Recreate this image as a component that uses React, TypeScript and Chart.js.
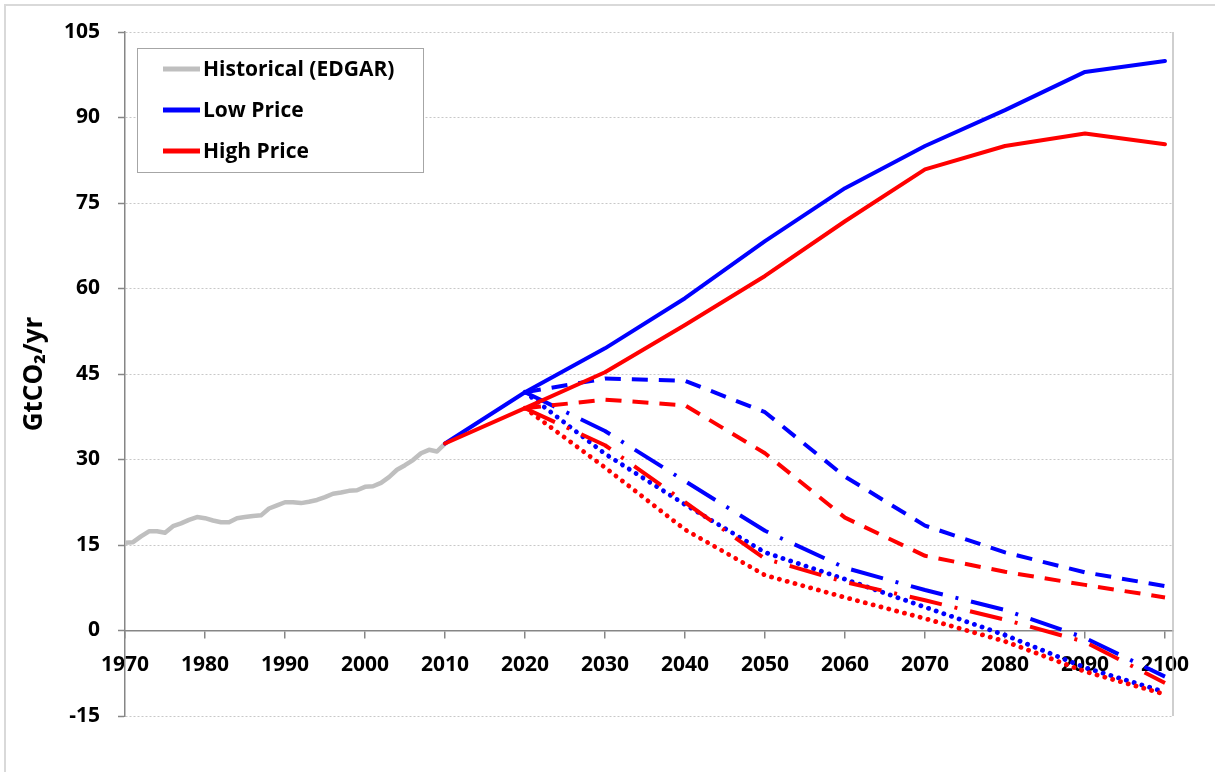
import React, { useEffect, useRef } from "react";
import { Chart, registerables } from "chart.js";

Chart.register(...registerables);

// ---------- data ----------
const histYears = [
  1970, 1971, 1972, 1973, 1974, 1975, 1976, 1977, 1978, 1979,
  1980, 1981, 1982, 1983, 1984, 1985, 1986, 1987, 1988, 1989,
  1990, 1991, 1992, 1993, 1994, 1995, 1996, 1997, 1998, 1999,
  2000, 2001, 2002, 2003, 2004, 2005, 2006, 2007, 2008, 2009, 2010,
];
const historical = [
  15.4, 15.5, 16.5, 17.4, 17.4, 17.15, 18.3, 18.8, 19.4, 19.9,
  19.7, 19.3, 19.0, 19.0, 19.7, 19.9, 20.1, 20.2, 21.4, 21.95,
  22.5, 22.5, 22.35, 22.6, 22.9, 23.4, 24.0, 24.2, 24.5, 24.6,
  25.2, 25.3, 25.9, 26.9, 28.2, 29.0, 29.9, 31.1, 31.7, 31.4, 32.8,
];

const baselineYears = [2010, 2020, 2030, 2040, 2050, 2060, 2070, 2080, 2090, 2100];
const lowPrice = [32.8, 41.8, 49.5, 58.3, 68.3, 77.6, 85.0, 91.3, 98.0, 99.9];
const highPrice = [32.8, 39.0, 45.3, 53.6, 62.2, 71.8, 80.9, 85.0, 87.2, 85.3];

const pathYears = [2020, 2030, 2040, 2050, 2060, 2070, 2080, 2090, 2100];
const lowDashed = [41.8, 44.2, 43.8, 38.3, 27.0, 18.4, 13.7, 10.2, 7.8];
const highDashed = [39.0, 40.5, 39.5, 31.1, 19.8, 13.1, 10.3, 8.0, 5.8];
const lowDashDot = [41.8, 35.0, 26.2, 17.5, 11.0, 7.1, 3.6, -1.3, -8.1];
const highDashDot = [39.0, 32.5, 22.5, 12.6, 8.5, 5.3, 1.9, -2.0, -9.2];
const lowDotted = [41.8, 31.0, 22.1, 13.7, 9.0, 4.1, -0.8, -6.5, -10.8];
const highDotted = [39.0, 28.6, 17.7, 9.7, 5.8, 2.1, -1.9, -7.2, -11.2];

const xTickYears = [1970, 1980, 1990, 2000, 2010, 2020, 2030, 2040, 2050, 2060, 2070, 2080, 2090, 2100];
const legendLabels = ["Historical (EDGAR)", "Low Price", "High Price"];

// ---------- styles ----------
const FONT = "'Open Sans', sans-serif";
const GRAY_HIST = "#BFBFBF";
const BLUE = "#0000FF";
const RED = "#FF0000";
const AXIS = "#868686";
const legendColors = [GRAY_HIST, BLUE, RED];

const toXY = (xs: number[], ys: number[]) => xs.map((x, i) => ({ x, y: ys[i] }));

const DASH = [16, 11];
const DASH_DOT = [33, 13, 3, 13];
const DOT = [0.1, 8];

const decorPlugin = {
  id: "decor",
  afterDraw(chart: any) {
    const { ctx, chartArea } = chart;
    ctx.save();
    // right border of plot area
    ctx.strokeStyle = "#BFBFBF";
    ctx.lineWidth = 1.5;
    ctx.beginPath();
    ctx.moveTo(chartArea.right, chartArea.top);
    ctx.lineTo(chartArea.right, chartArea.bottom);
    ctx.stroke();

    // legend box
    const bx = 137.5, by = 48.5, bw = 286, bh = 124;
    ctx.fillStyle = "#FFFFFF";
    ctx.fillRect(bx, by, bw, bh);
    ctx.strokeStyle = "#A6A6A6";
    ctx.lineWidth = 1;
    ctx.strokeRect(bx, by, bw, bh);
    const rows = [69, 110, 151];
    ctx.font = `bold 21px ${FONT}`;
    ctx.textBaseline = "middle";
    ctx.textAlign = "left";
    legendLabels.forEach((label, i) => {
      ctx.strokeStyle = legendColors[i];
      ctx.lineWidth = 5;
      ctx.lineCap = "butt";
      ctx.beginPath();
      ctx.moveTo(163, rows[i]);
      ctx.lineTo(200, rows[i]);
      ctx.stroke();
      ctx.fillStyle = "#000000";
      ctx.fillText(label, 203, rows[i] + 1);
    });
    ctx.restore();
  },
};

export default function App() {
  const canvasRef = useRef<HTMLCanvasElement | null>(null);

  useEffect(() => {
    if (!canvasRef.current) return;
    const line = (label: string, data: any[], color: string, dash: number[], cap: string, width = 4) => ({
      label,
      data,
      borderColor: color,
      backgroundColor: color,
      borderWidth: width,
      borderDash: dash,
      borderCapStyle: cap,
      borderJoinStyle: "round",
      pointRadius: 0,
      tension: 0,
      fill: false,
    });

    const chart = new Chart(canvasRef.current, {
      type: "line",
      data: {
        datasets: [
          line("High Price", toXY(baselineYears, highPrice), RED, [], "round"),
          line("High Price dashed", toXY(pathYears, highDashed), RED, DASH, "butt"),
          line("High Price dash-dot", toXY(pathYears, highDashDot), RED, DASH_DOT, "butt"),
          line("High Price dotted", toXY(pathYears, highDotted), RED, DOT, "round", 4.8),
          line("Low Price", toXY(baselineYears, lowPrice), BLUE, [], "round"),
          line("Low Price dashed", toXY(pathYears, lowDashed), BLUE, DASH, "butt"),
          line("Low Price dash-dot", toXY(pathYears, lowDashDot), BLUE, DASH_DOT, "butt"),
          line("Low Price dotted", toXY(pathYears, lowDotted), BLUE, DOT, "round", 4.8),
          line("Historical (EDGAR)", toXY(histYears, historical), GRAY_HIST, [], "round", 4.5),
        ] as any,
      },
      options: {
        responsive: false,
        animation: false,
        layout: { padding: { left: 0, top: 32, right: 42, bottom: 56 } },
        plugins: {
          legend: { display: false },
          tooltip: { enabled: false },
        },
        scales: {
          x: {
            type: "linear",
            position: { y: 0 } as any,
            min: 1970,
            max: 2101,
            afterBuildTicks: (s: any) => {
              s.ticks = xTickYears.map((v) => ({ value: v }));
            },
            grid: {
              drawOnChartArea: false,
              drawTicks: true,
              tickLength: 7,
              tickColor: AXIS,
              tickWidth: 1.5,
              lineWidth: 1.5,
            },
            border: { display: true, color: AXIS, width: 1.5 },
            ticks: {
              font: { family: FONT, size: 21, weight: "bold" },
              color: "#000000",
              padding: 15,
              maxRotation: 0,
              autoSkip: false,
              callback: (v: any) => String(v),
            },
          },
          y: {
            type: "linear",
            min: -15,
            max: 105,
            afterFit: (s: any) => {
              s.width = 125;
            },
            grid: {
              color: "#C8C8C8",
              lineWidth: 1,
              tickColor: AXIS,
              tickLength: 7,
              tickWidth: 1.5,
            },
            border: { display: true, color: AXIS, width: 1.5, dash: [2, 2] },
            ticks: {
              stepSize: 15,
              font: { family: FONT, size: 21, weight: "bold" },
              color: "#000000",
              padding: 18,
              callback: (v: any) => String(v),
            },
            title: {
              display: true,
              text: "GtCO₂/yr",
              font: { family: FONT, size: 26, weight: "bold" },
              color: "#000000",
              padding: { top: 19, bottom: 0 },
            },
          },
        },
      } as any,
      plugins: [decorPlugin],
    });
    return () => chart.destroy();
  }, []);

  return (
    <div
      style={{
        position: "absolute",
        left: 0,
        top: 0,
        width: 1215,
        height: 772,
        overflow: "hidden",
        background: "#FFFFFF",
      }}
    >
      <div
        style={{
          position: "absolute",
          left: 4,
          top: 4,
          width: 1260,
          height: 820,
          border: "2px solid #D9D9D9",
        }}
      />
      <canvas
        ref={canvasRef}
        width={1215}
        height={772}
        style={{ position: "absolute", left: 0, top: 0 }}
      />
    </div>
  );
}
